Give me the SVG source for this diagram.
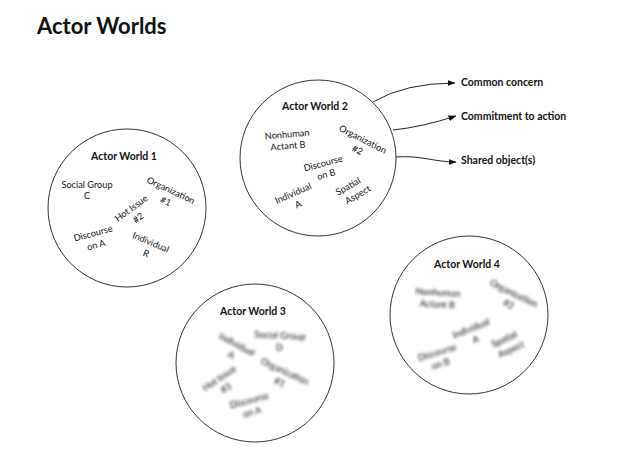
<svg xmlns="http://www.w3.org/2000/svg" width="640" height="455" viewBox="0 0 640 455">
<style>
text{font-family:Lato,"Liberation Sans","DejaVu Sans",sans-serif;fill:#111}
.title{font-size:22px;font-weight:bold}
.head{font-size:10.5px;font-weight:bold}
.lbl{font-size:9.2px;text-anchor:middle}
.out{font-size:10.5px;font-weight:bold}
.world{fill:#fff;stroke:#333;stroke-width:1}
.conn{fill:none;stroke:#222;stroke-width:1}
.blur{filter:url(#bl)}
</style>
<defs>
<marker id="ah" markerWidth="8" markerHeight="6" refX="7.5" refY="3" orient="auto" markerUnits="userSpaceOnUse">
<path d="M0,0 L8,3 L0,6 Z" fill="#111"/>
</marker>
<filter id="bl" x="-30%" y="-30%" width="160%" height="160%"><feGaussianBlur stdDeviation="1.5"/></filter>
</defs>
<rect width="640" height="455" fill="#fff"/>
<text class="title" x="37" y="34">Actor Worlds</text>

<g id="connectors">
<path class="conn" d="M373,102 Q405,83 455,83" marker-end="url(#ah)"/>
<path class="conn" d="M393,130 Q422,127 456,116" marker-end="url(#ah)"/>
<path class="conn" d="M396,157 C420,155 434,162 456,162" marker-end="url(#ah)"/>
</g>

<g id="out-common"><text class="out" x="461" y="86">Common concern</text></g>
<g id="out-commitment"><text class="out" x="461" y="120">Commitment to action</text></g>
<g id="out-shared"><text class="out" x="461" y="164">Shared object(s)</text></g>

<g id="world1">
<circle class="world" cx="127" cy="208" r="79"/>
<text class="head" x="124" y="160" text-anchor="middle">Actor World 1</text>
<text class="lbl" x="87" y="187.5">Social Group<tspan x="87" y="199">C</tspan></text>
<g transform="translate(171,190) rotate(25)"><text class="lbl" y="3.5">Organization<tspan x="0" y="15.5">#1</tspan></text></g>
<g transform="translate(131,208) rotate(-36)"><text class="lbl" y="3.5">Hot Issue<tspan x="0" y="15.5">#2</tspan></text></g>
<g transform="translate(93,233) rotate(-15)"><text class="lbl" y="3.5">Discourse<tspan x="0" y="15.5">on A</tspan></text></g>
<g transform="translate(151,242) rotate(23)"><text class="lbl" y="3.5">Individual<tspan x="0" y="15.5">R</tspan></text></g>
</g>

<g id="world2">
<circle class="world" cx="318" cy="158" r="78"/>
<text class="head" x="315" y="110" text-anchor="middle">Actor World 2</text>
<g transform="translate(287,134) rotate(-5)"><text class="lbl" y="3.5">Nonhuman<tspan x="0" y="15">Actant B</tspan></text></g>
<g transform="translate(363,139) rotate(27)"><text class="lbl" y="3.5">Organization<tspan x="0" y="15.5">#2</tspan></text></g>
<g transform="translate(323,163) rotate(-15)"><text class="lbl" y="3.5">Discourse<tspan x="0" y="15">on B</tspan></text></g>
<g transform="translate(293,193) rotate(-24)"><text class="lbl" y="3.5">Individual<tspan x="0" y="15.5">A</tspan></text></g>
<g transform="translate(348,186) rotate(-30)"><text class="lbl" y="3.5">Spatial<tspan x="4" y="15.5">Aspect</tspan></text></g>
</g>

<g id="world3">
<circle class="world" cx="255" cy="363" r="79"/>
<text class="head" x="253" y="315" text-anchor="middle">Actor World 3</text>
<g class="blur">
<g transform="translate(237,344) rotate(28)"><text class="lbl" y="3.5">Individual<tspan x="0" y="15.5">A</tspan></text></g>
<g transform="translate(280,335) rotate(3)"><text class="lbl" y="3.5">Social Group<tspan x="0" y="15.5">D</tspan></text></g>
<g transform="translate(219,378) rotate(-34)"><text class="lbl" y="3.5">Hot Issue<tspan x="0" y="15.5">#3</tspan></text></g>
<g transform="translate(285,371) rotate(25)"><text class="lbl" y="3.5">Organization<tspan x="0" y="15.5">#1</tspan></text></g>
<g transform="translate(249,400) rotate(-15)"><text class="lbl" y="3.5">Discourse<tspan x="0" y="15.5">on A</tspan></text></g>
</g>
</g>

<g id="world4">
<circle class="world" cx="469" cy="315" r="79"/>
<text class="head" x="467" y="268" text-anchor="middle">Actor World 4</text>
<g class="blur">
<g transform="translate(438,292) rotate(3)"><text class="lbl" y="3.5">Nonhuman<tspan x="0" y="15.5">Actant B</tspan></text></g>
<g transform="translate(514,293) rotate(26)"><text class="lbl" y="3.5">Organization<tspan x="0" y="15.5">#2</tspan></text></g>
<g transform="translate(471,328) rotate(-22)"><text class="lbl" y="3.5">Individual<tspan x="0" y="15.5">A</tspan></text></g>
<g transform="translate(437,352) rotate(-17)"><text class="lbl" y="3.5">Discourse<tspan x="0" y="15.5">on B</tspan></text></g>
<g transform="translate(504,339) rotate(-25)"><text class="lbl" y="3.5">Spatial<tspan x="2" y="15.5">Aspect</tspan></text></g>
</g>
</g>
</svg>
